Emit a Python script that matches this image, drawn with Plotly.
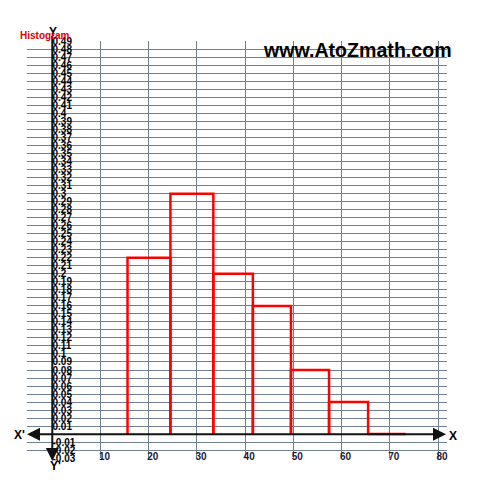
import plotly.graph_objects as go

# Class boundaries and relative frequencies
edges = [15.6, 24.5, 33.4, 41.6, 49.5, 57.4, 65.5, 73.3]
rel_freq = [0.22, 0.30, 0.20, 0.16, 0.08, 0.04, 0.00]

x_ticks = [10, 20, 30, 40, 50, 60, 70, 80]
y_ticks = [round(-0.03 + 0.01 * i, 2) for i in range(53) if round(-0.03 + 0.01 * i, 2) != 0]
y_tick_text = [("%.2f" % v).rstrip("0").rstrip(".") for v in y_ticks]

OFF = 8  # browser body margin
W, H = 501 - OFF, 482 - OFF

def px(p):  # reference pixel x -> paper x
    return (p - OFF) / W

def py(p):  # reference pixel y -> paper y
    return 1 - (p - OFF) / H

# reference pixel layout
x0_px, x80_px = 52.3, 438.0
sx = (x80_px - x0_px) / 80.0
y0_px = 434.3
sy = 802.0

def px_to_x(p):
    return (p - x0_px) / sx

def py_to_y(p):
    return (y0_px - p) / sy

dom_l, dom_r = 27.0, 447.0
dom_t, dom_b = 41.3, 458.3

# histogram outline built from edges and heights
hx, hy = [], []
for i, h in enumerate(rel_freq):
    a, b = edges[i], edges[i + 1]
    hx += [a, a, b, b, None]
    hy += [0, h, h, 0, None]

fig = go.Figure()
fig.add_trace(go.Scatter(x=hx, y=hy, mode="lines",
                         line=dict(color="#ff0000", width=2.5),
                         hoverinfo="skip", showlegend=False, cliponaxis=False))

grid_col = "#708090"
fig.update_layout(
    template="none",
    width=W, height=H,
    margin=dict(l=0, r=0, t=0, b=0, pad=0),
    paper_bgcolor="white", plot_bgcolor="white",
    showlegend=False,
    xaxis=dict(
        domain=[px(dom_l), px(dom_r)],
        range=[px_to_x(dom_l), px_to_x(dom_r)],
        tickvals=x_ticks, ticktext=[str(v) for v in x_ticks],
        showgrid=True, gridcolor=grid_col, gridwidth=1,
        zeroline=False, showline=False, ticks="", automargin=False,
        anchor="free", position=py(448.5),
        tickfont=dict(family="Liberation Sans", size=10, color="#1a1a3a", weight="bold"),
        ticklabelshift=4,
    ),
    yaxis=dict(
        domain=[py(dom_b), py(dom_t)],
        range=[py_to_y(dom_b) - 0.0003, py_to_y(dom_t) + 0.0003],
        tickvals=y_ticks, ticktext=y_tick_text,
        showgrid=True, gridcolor=grid_col, gridwidth=1,
        zeroline=False, showline=False, ticks="", automargin=False,
        anchor="free", side="right", position=px(51.5),
        tickfont=dict(family="Liberation Sans", size=10, color="black", weight="bold"),
    ),
)

ax_col = "#111111"
shapes = [
    # X axis line
    dict(type="line", xref="paper", yref="paper", x0=px(30), x1=px(443),
         y0=py(y0_px), y1=py(y0_px), line=dict(color=ax_col, width=2)),
    # Y axis line
    dict(type="line", xref="paper", yref="paper", x0=px(x0_px), x1=px(x0_px),
         y0=py(36), y1=py(458), line=dict(color=ax_col, width=2)),
]
fig.update_layout(shapes=shapes)

ann = []
arrow = dict(text="", showarrow=True, arrowhead=2, arrowsize=1.3, arrowwidth=2,
             arrowcolor=ax_col, xref="paper", yref="paper", axref="pixel", ayref="pixel")
ann.append(dict(arrow, x=px(446), y=py(y0_px), ax=-8, ay=0))
ann.append(dict(arrow, x=px(27), y=py(y0_px), ax=8, ay=0))
ann.append(dict(arrow, x=px(x0_px), y=py(461), ax=0, ay=-8))

def label(x, y, text, font, xanchor="center"):
    return dict(x=px(x), y=py(y), xref="paper", yref="paper", text=text,
                showarrow=False, font=font, xanchor=xanchor, yanchor="middle")

lab_font = dict(family="Liberation Sans", size=12, color="black", weight="bold")
ann.append(label(19, 435, "X'", lab_font))
ann.append(label(453, 436, "X", lab_font))
ann.append(label(55, 466, "Y'", lab_font))
ann.append(label(53, 32, "Y", lab_font))
ann.append(label(18, 36, "Histogram",
                 dict(family="Liberation Sans", size=10, color="#dd0000", weight="bold"),
                 xanchor="left"))
ann.append(label(357.5, 50, "www.AtoZmath.com",
                 dict(family="Liberation Sans", size=19.6, color="black", weight="bold")))
fig.update_layout(annotations=ann)

fig.write_html("out.html")
